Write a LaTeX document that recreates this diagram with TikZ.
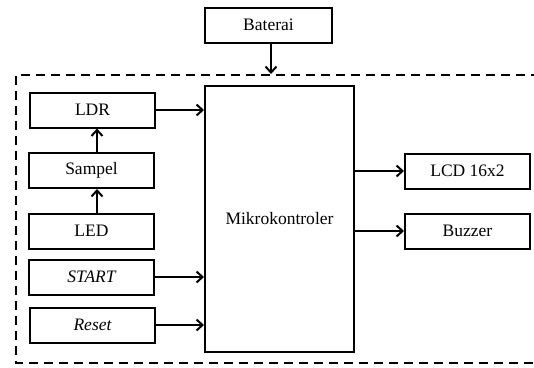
\documentclass[tikz,border=0pt]{standalone}
\usepackage{fontspec}
\setmainfont{Liberation Serif}
\usetikzlibrary{arrows.meta}
\begin{document}
\begin{tikzpicture}[x=1pt,y=-1pt,
  blk/.style={draw, line width=2pt, minimum width=125pt, minimum height=35pt, inner sep=0pt, font=\fontsize{17.5}{20}\selectfont},
  conn/.style={line width=2pt, -{Straight Barb[length=6pt,width=11pt,line width=2pt]}},
  frame/.style={line width=2pt, dash pattern=on 9pt off 6pt}]
\useasboundingbox (0,0) rectangle (534,367);
\draw[frame] (540,75) -- (16,75) -- (16,363) -- (540,363);
\node[blk, minimum width=127pt] (bat) at (268.5,25) {Baterai};
\node[blk, minimum width=149pt, minimum height=266pt] (mcu) at (279.5,219) {Mikrokontroler};
\node[blk] (ldr) at (92.5,110) {LDR};
\node[blk] (smp) at (91.5,170.5) {Sampel};
\node[blk] (led) at (91.5,231) {LED};
\node[blk] (start) at (91.5,277) {\itshape START};
\node[blk] (rst) at (92.5,325) {\itshape Reset};
\node[blk] (lcd) at (467.5,171) {LCD 16x2};
\node[blk] (buz) at (467.5,231) {Buzzer};
\coordinate (batend) at (271,74);
\draw[conn] (bat.south -| batend) -- (batend);
\draw[conn] (ldr.east) -- (ldr.east -| mcu.west);
\draw[conn] (smp.north -| 97,0) -- (ldr.south -| 97,0);
\draw[conn] (led.north -| 97,0) -- (smp.south -| 97,0);
\draw[conn] (start.east) -- (start.east -| mcu.west);
\draw[conn] (rst.east) -- (rst.east -| mcu.west);
\draw[conn] (mcu.east |- lcd.west) -- (lcd.west);
\draw[conn] (mcu.east |- buz.west) -- (buz.west);
\end{tikzpicture}
\end{document}
